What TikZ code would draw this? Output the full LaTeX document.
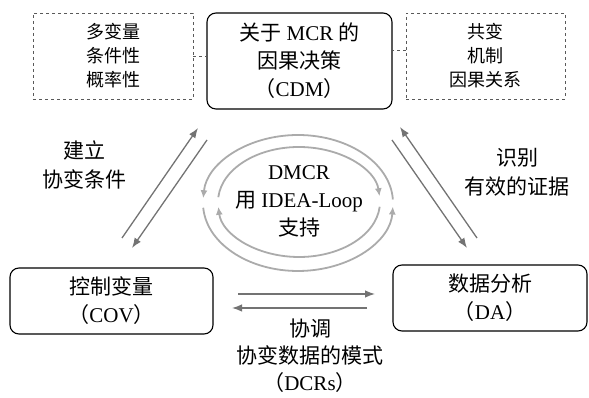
\documentclass[tikz,border=0pt]{standalone}
\usepackage{fontspec}
\setmainfont{Liberation Serif}
\newfontfamily\zh{Noto Sans CJK SC}
\usetikzlibrary{arrows.meta}

\begin{document}
\begin{tikzpicture}[x=1pt,y=1pt,
    stagebox/.style={draw,rounded corners=9pt,line width=1.1pt,align=center,inner sep=0pt,
      font=\fontsize{21}{28}\selectfont},
    notebox/.style={draw=black!65,dashed,line width=0.7pt,align=center,inner sep=0pt,
      font=\zh\fontsize{18}{24}\selectfont},
    lbl/.style={align=center,font=\fontsize{21}{29}\selectfont},
    relarrow/.style={draw=black!55,line width=1.3pt,-{Latex[length=10pt,width=7.5pt]}},
    ringarrow/.style={draw=black!33,line width=1.8pt,-{Latex[length=8pt,width=7pt]}}]
  \useasboundingbox (0,0) rectangle (589,398);

  % the three stages
  \node[stagebox,minimum width=185pt,minimum height=96pt] (cdm) at (299.5,337)
    {{\zh 关于} MCR {\zh 的}\\{\zh 因果决策}\\{\zh （}CDM{\zh ）}};
  \node[stagebox,minimum width=203pt,minimum height=66pt] (cov) at (111.5,97)
    {{\zh 控制变量}\\{\zh （}COV{\zh ）}};
  \node[stagebox,minimum width=194pt,minimum height=66pt] (da) at (490,100)
    {{\zh 数据分析}\\{\zh （}DA{\zh ）}};

  % side notes on the decision box
  \node[notebox,minimum width=160pt,minimum height=86pt] (noteL) at (113,342)
    {多变量\\条件性\\概率性};
  \node[notebox,minimum width=159pt,minimum height=86pt] (noteR) at (485.5,342)
    {共变\\机制\\因果关系};
  \draw[black!65,dashed,line width=0.7pt] (noteL.east) -- (noteL.east -| cdm.west);
  \coordinate (rj) at ([yshift=6pt]noteR.west);
  \draw[black!65,dashed,line width=0.7pt] (rj) -- (rj -| cdm.east);

  % paired arrows between the stages
  \coordinate (a1) at (122,160); \coordinate (a2) at (198,270);
  \coordinate (b1) at (207,258); \coordinate (b2) at (132,150);
  \coordinate (c1) at (477,160); \coordinate (c2) at (400,271);
  \coordinate (d1) at (392,258); \coordinate (d2) at (467,150);
  \coordinate (e1) at (238,104); \coordinate (e2) at (375,104);
  \coordinate (f1) at (367,90);  \coordinate (f2) at (232,90);
  \draw[relarrow] (a1) -- (a2);
  \draw[relarrow] (b1) -- (b2);
  \draw[relarrow] (c1) -- (c2);
  \draw[relarrow] (d1) -- (d2);
  \draw[relarrow] (e1) -- (e2);
  \draw[relarrow] (f1) -- (f2);

  \node[lbl] (setup) at (84,233) {{\zh 建立}\\{\zh 协变条件}};
  \node[lbl] (ident) at (517,225.5) {{\zh 识别}\\{\zh 有效的证据}};
  \node[lbl,font=\fontsize{21}{27}\selectfont] (adjust) at (310,42)
    {{\zh 协调}\\{\zh 协变数据的模式}\\{\zh （}DCRs{\zh ）}};

  % the loop in the middle: outer ring anticlockwise, inner ring clockwise
  \coordinate (lpo) at (298,195);
  \coordinate (lpi) at (299,196);
  \draw[ringarrow] ([shift={(3:95 and 68)}]lpo) arc[start angle=3,end angle=176,x radius=95pt,y radius=68pt];
  \draw[ringarrow] ([shift={(184:95 and 68)}]lpo) arc[start angle=184,end angle=357,x radius=95pt,y radius=68pt];
  \draw[ringarrow] ([shift={(175:81 and 55)}]lpi) arc[start angle=175,end angle=6,x radius=81pt,y radius=55pt];
  \draw[ringarrow] ([shift={(-5:81 and 55)}]lpi) arc[start angle=-5,end angle=-175,x radius=81pt,y radius=55pt];
  \node[lbl,font=\fontsize{21}{28}\selectfont] (dmcr) at (299,197) {DMCR\\{\zh 用} IDEA-Loop\\{\zh 支持}};
\end{tikzpicture}
\end{document}
